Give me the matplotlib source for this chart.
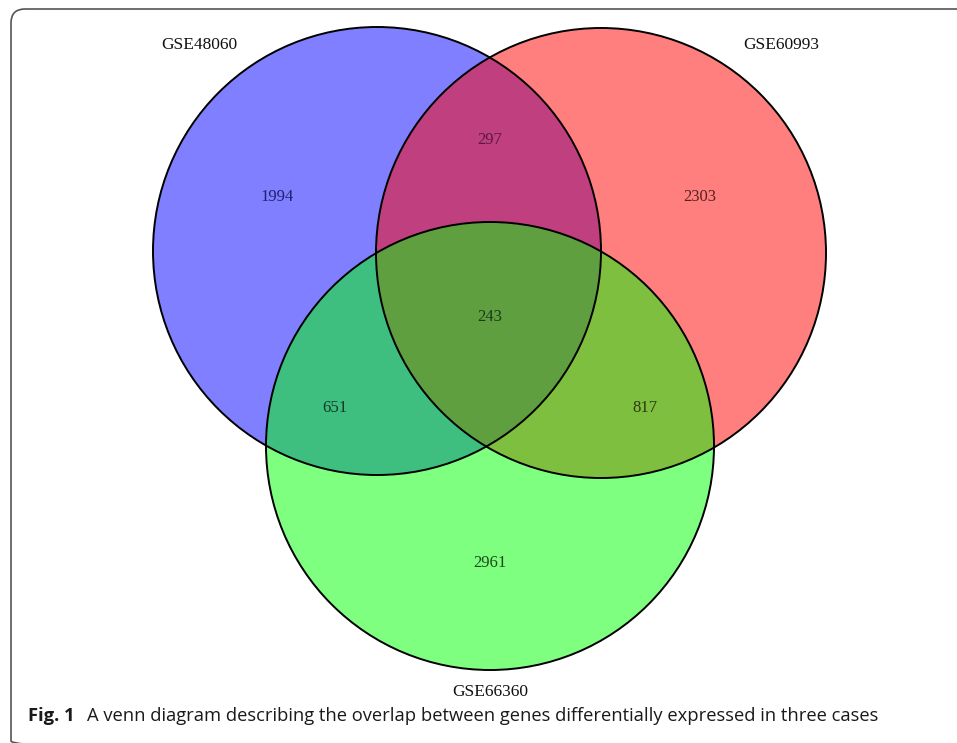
import matplotlib
matplotlib.use("Agg")
import matplotlib.pyplot as plt
from matplotlib.patches import Circle, FancyBboxPatch

# ---- data ----
set_names = ["GSE48060", "GSE60993", "GSE66360"]
region_labels = ["1994", "297", "2303", "243", "651", "817", "2961"]
region_values = [1994, 297, 2303, 243, 651, 817, 2961]
caption_bold = "Fig. 1"
caption_text = "A venn diagram describing the overlap between genes differentially expressed in three cases"

# ---- layout (pixel coordinates) ----
W, H = 957, 743
circles = [(377, 251, 224), (601, 253, 225), (490, 446, 224)]
fills = ["#0000ff", "#ff0000", "#00ff00"]
name_pos = [(199, 45), (781, 45), (490, 692)]
region_pos = [(277, 197), (490, 140), (700, 197), (490, 317), (335, 408), (645, 408), (490, 563)]
region_colors = ["#202070", "#5a1a40", "#5a2020", "#1a3a1a", "#103a28", "#2a3a10", "#1a4a1a"]

fig = plt.figure(figsize=(W / 100, H / 100), dpi=100)
ax = fig.add_axes([0, 0, 1, 1])
ax.set_xlim(0, W)
ax.set_ylim(H, 0)
ax.axis("off")

# frame (right and bottom edges fall outside the picture)
frame = FancyBboxPatch((11, 9), 980, 746, boxstyle="round,pad=0,rounding_size=14",
                       fill=False, edgecolor="#555555", linewidth=1.2)
ax.add_patch(frame)

for (cx, cy, r), c in zip(circles, fills):
    ax.add_patch(Circle((cx, cy), r, facecolor=c, alpha=0.5, edgecolor="none"))
for (cx, cy, r) in circles:
    ax.add_patch(Circle((cx, cy), r, facecolor="none", edgecolor="black", linewidth=1.4))

serif = ["Liberation Serif", "DejaVu Serif"]
for name, (x, y) in zip(set_names, name_pos):
    ax.text(x, y, name, ha="center", va="center", fontsize=12.5, family=serif, color="#111111")

for lab, (x, y), col in zip(region_labels, region_pos, region_colors):
    ax.text(x, y, lab, ha="center", va="center", fontsize=12, family=serif, color=col)

# caption
t1 = ax.text(28, 716, caption_bold, ha="left", va="center", fontsize=13.2,
             family=["Open Sans", "DejaVu Sans"], fontweight="bold", color="#1a1a1a")
fig.canvas.draw()
bb = t1.get_window_extent()
x_end = ax.transData.inverted().transform((bb.x1, bb.y0))[0]
ax.text(x_end + 12, 716, caption_text, ha="left", va="center", fontsize=13.2,
        family=["Open Sans", "DejaVu Sans"], color="#1a1a1a")

fig.savefig("out.png", dpi=100)
